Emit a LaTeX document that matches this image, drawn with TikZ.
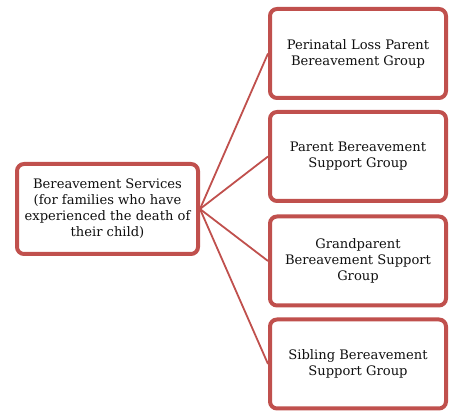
\documentclass[tikz,border=0pt]{standalone}
\usepackage{fontspec}
\setmainfont{DejaVu Serif}
\definecolor{boxred}{HTML}{C0504D}
\definecolor{txt}{HTML}{101010}
\tikzset{
  box/.style={draw=boxred, line width=4pt, rounded corners=7pt, fill=white,
    minimum width=#1, align=center, text=txt,
    font=\fontsize{13.1pt}{16pt}\selectfont, inner sep=0pt},
  link/.style={draw=boxred, line width=1.8pt}
}
\begin{document}
\begin{tikzpicture}[x=1pt,y=-1pt]
\useasboundingbox (0,0) rectangle (451,411);
\node[box=181pt, minimum height=90pt] (src) at (107.5,209) {Bereavement Services\\(for families who have\\experienced the death of\\their child)};
\node[box=176pt, minimum height=89pt] (g1) at (358,53.5) {Perinatal Loss Parent\\Bereavement Group};
\node[box=176pt, minimum height=89pt] (g2) at (358,156.5) {Parent Bereavement\\Support Group};
\node[box=176pt, minimum height=89pt] (g3) at (358,261) {Grandparent\\Bereavement Support\\Group};
\node[box=176pt, minimum height=89pt] (g4) at (358,364) {Sibling Bereavement\\Support Group};
\foreach \g in {g1,g2,g3,g4} {\draw[link] (src.east) -- (\g.west);}
\end{tikzpicture}
\end{document}
